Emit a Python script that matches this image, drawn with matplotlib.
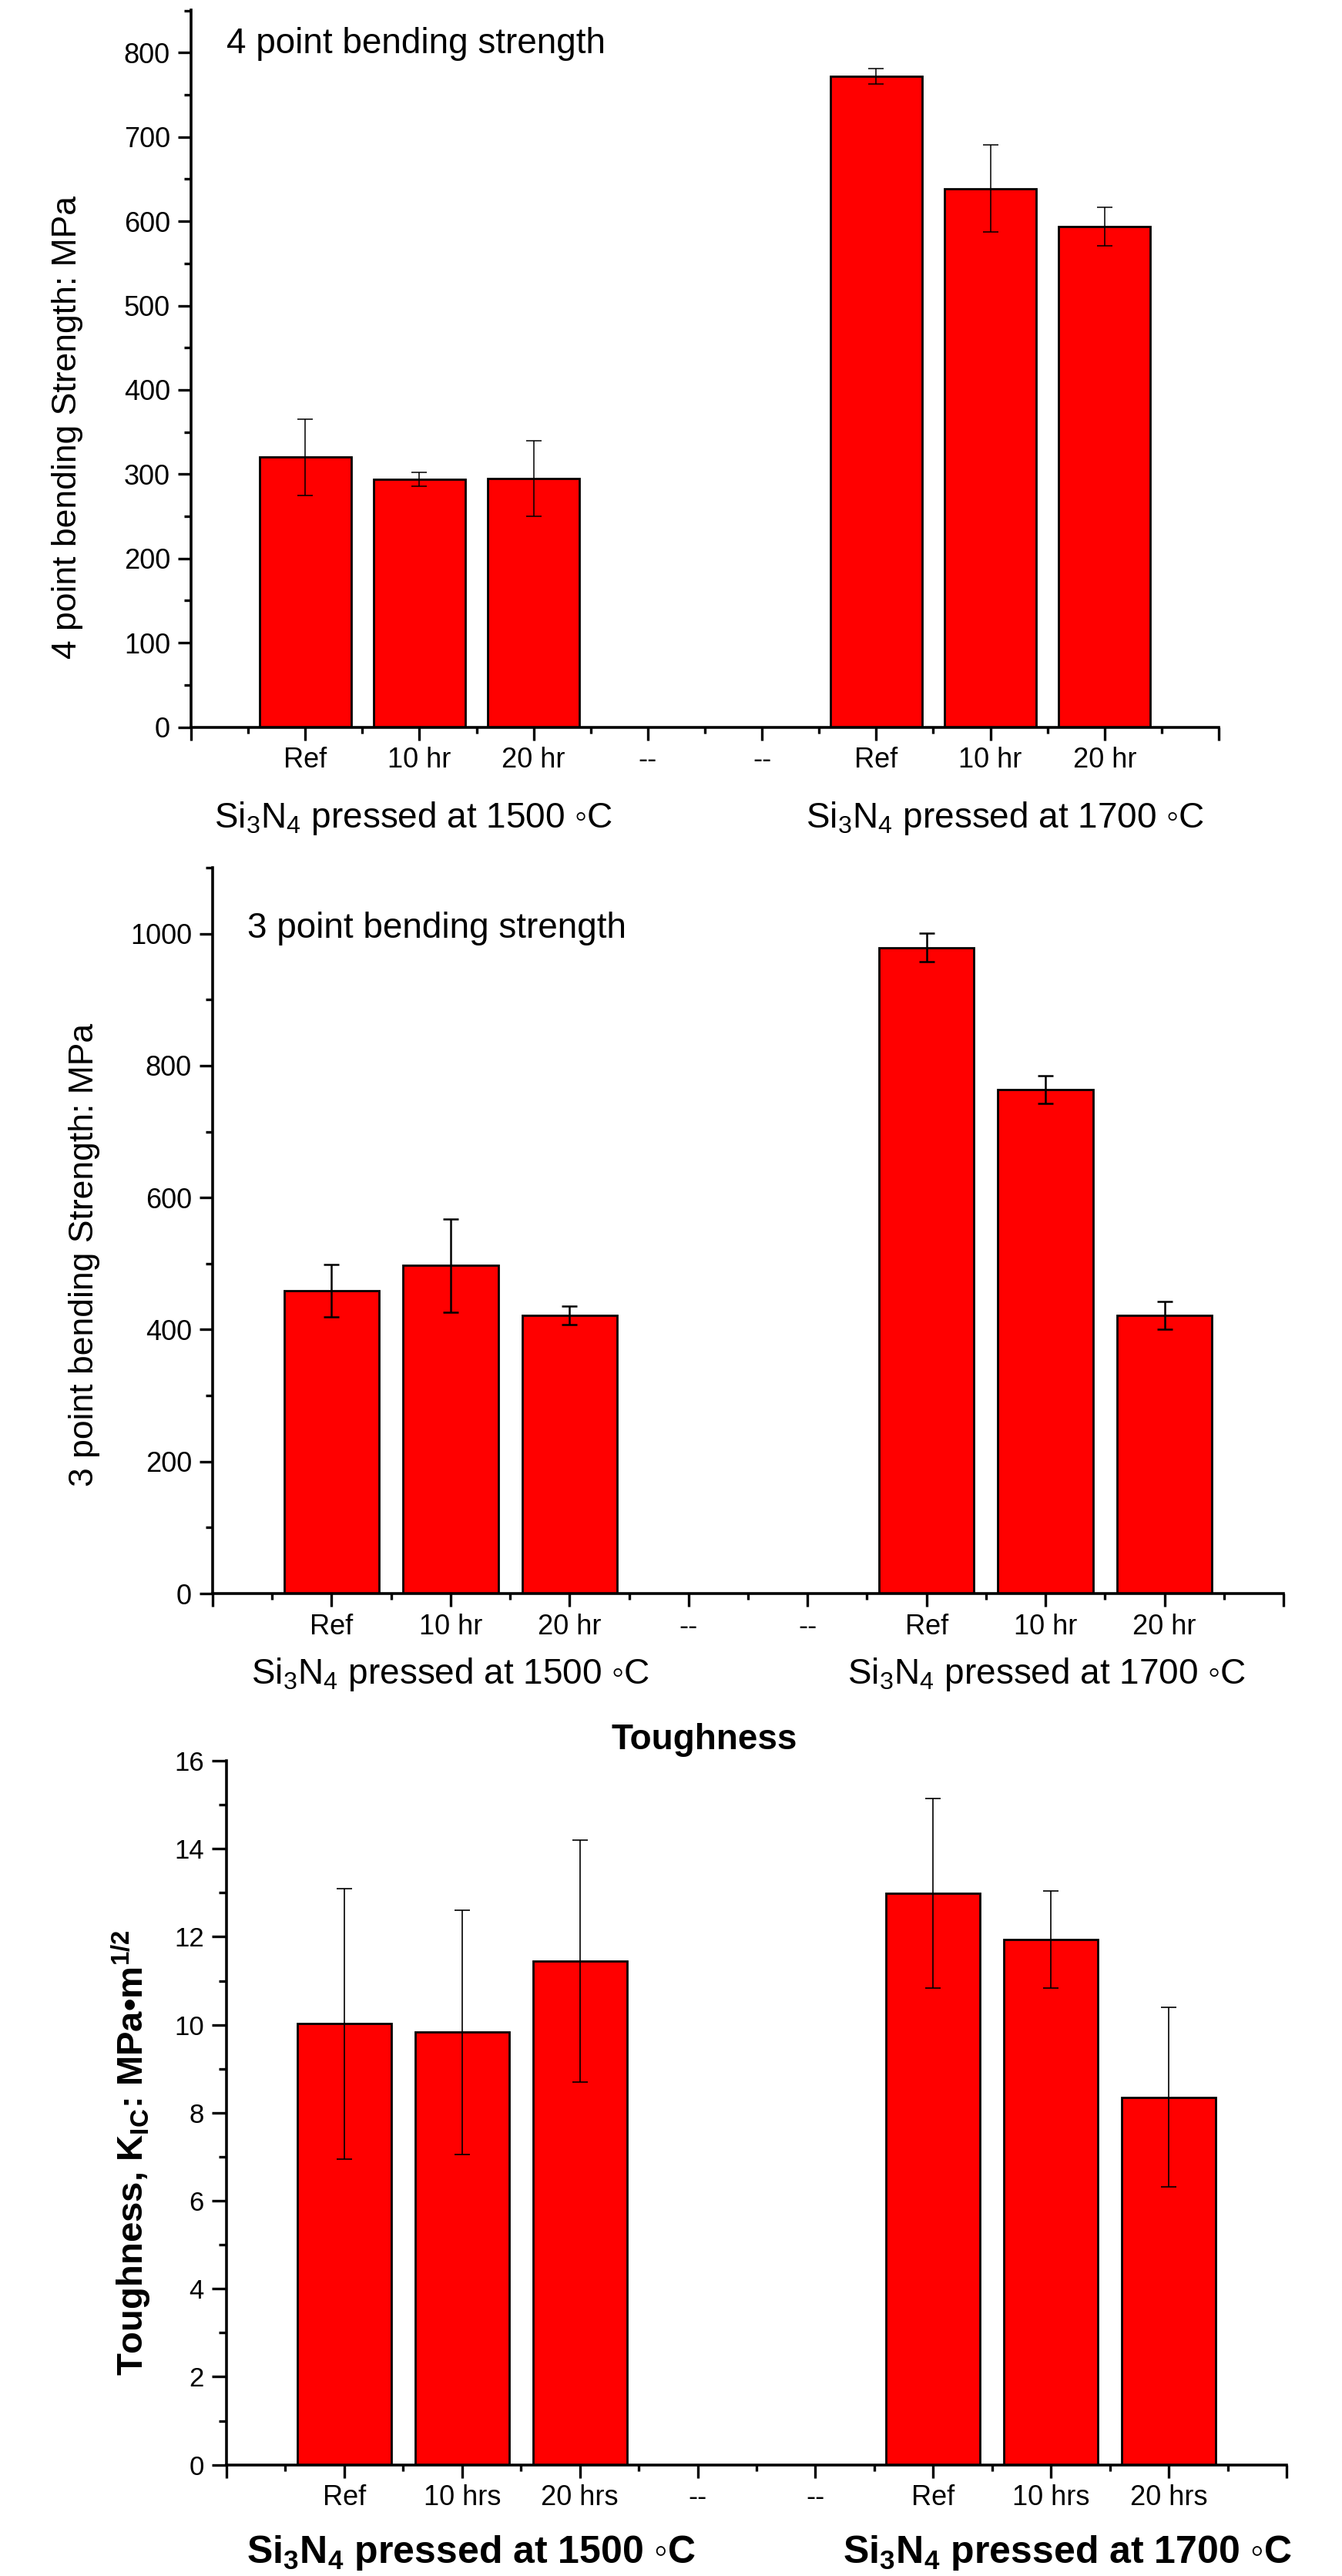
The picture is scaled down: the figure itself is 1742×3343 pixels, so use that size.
import numpy as np
import matplotlib
matplotlib.use("Agg")
import matplotlib.pyplot as plt
from matplotlib.ticker import MultipleLocator, FixedLocator

plt.rcParams['font.family'] = ['Liberation Sans', 'DejaVu Sans']
plt.rcParams['mathtext.fontset'] = 'custom'
plt.rcParams['mathtext.rm'] = 'Liberation Sans'
plt.rcParams['mathtext.it'] = 'Liberation Sans'
plt.rcParams['mathtext.bf'] = 'Liberation Sans:bold'

##  data (None = empty "--" slot)
cats_hr = ['Ref', '10 hr', '20 hr', '--', '--', 'Ref', '10 hr', '20 hr']
cats_hrs = ['Ref', '10 hrs', '20 hrs', '--', '--', 'Ref', '10 hrs', '20 hrs']

bend4 = [320, 294, 295, None, None, 772, 639, 594]
bend4_err = [45, 8, 45, None, None, 9, 52, 23]

bend3 = [459, 497, 421, None, None, 979, 764, 422]
bend3_err = [40, 71, 14, None, None, 22, 21, 21]

tough = [10.02, 9.83, 11.44, None, None, 12.99, 11.94, 8.35]
tough_err = [3.07, 2.77, 2.75, None, None, 2.15, 1.1, 2.04]

W, H = 1742, 3343
fig = plt.figure(figsize=(W / 100, H / 100), dpi=100)


def px_axes(l, r, t, b):
    # axes from pixel box (left, right, top, bottom)
    return fig.add_axes([l / W, (H - b) / H, (r - l) / W, (b - t) / H])


def panel(ax, vals, errs, labels, ylim, major, minor, elw, fs_tick, fs_cat, ytl=12.5):
    x = np.arange(1, len(vals) + 1)
    keep = np.array([v is not None for v in vals])
    v = np.array([vv for vv in vals if vv is not None], dtype=float)
    e = np.array([ee for ee in errs if ee is not None], dtype=float)
    ax.bar(x[keep], v, width=0.8, color='#ff0000', edgecolor='black',
           linewidth=2, zorder=2)
    ax.errorbar(x[keep], v, yerr=e, fmt='none', ecolor='black',
                elinewidth=elw, capsize=7, capthick=elw, zorder=3)

    ax.set_xlim(0, 9)
    ax.set_ylim(*ylim)
    for s in ['top', 'right']:
        ax.spines[s].set_visible(False)
    for s in ['left', 'bottom']:
        ax.spines[s].set_linewidth(2.6)

    ax.xaxis.set_major_locator(FixedLocator(range(0, 10)))
    ax.xaxis.set_minor_locator(FixedLocator(np.arange(0.5, 9, 1)))
    ax.set_xticklabels([''] + labels + [''])
    ax.yaxis.set_major_locator(MultipleLocator(major))
    ax.yaxis.set_minor_locator(MultipleLocator(minor))

    ax.tick_params(axis='x', which='major', direction='out', length=12.5, width=2.4,
                   labelsize=fs_cat, pad=6)
    ax.tick_params(axis='x', which='minor', direction='out', length=5.5, width=2.4)
    ax.tick_params(axis='y', which='major', direction='out', length=ytl, width=2.4,
                   labelsize=fs_tick, pad=7)
    ax.tick_params(axis='y', which='minor', direction='out', length=ytl / 2, width=2.4)


def group_labels(ax, xs, offset, fs, bold=False):
    if bold:
        txt = [r'Si$_\mathbf{3}$N$_\mathbf{4}$ pressed at 1500 ◦C',
               r'Si$_\mathbf{3}$N$_\mathbf{4}$ pressed at 1700 ◦C']
    else:
        txt = [r'Si$_3$N$_4$ pressed at 1500 ◦C',
               r'Si$_3$N$_4$ pressed at 1700 ◦C']
    for xx, t in zip(xs, txt):
        ax.annotate(t, xy=(xx, 0), xycoords=ax.get_xaxis_transform(),
                    xytext=(0, -offset), textcoords='offset pixels',
                    ha='center', va='baseline', fontsize=fs,
                    fontweight='bold' if bold else 'normal',
                    annotation_clip=False)


# 4 point bending
ax1 = px_axes(248, 1582, 12.6, 943.5)
panel(ax1, bend4, bend4_err, cats_hr, (0, 851), 100, 50, 1.1, 26, 26)
ax1.text(0.0345, 0.952, '4 point bending strength', transform=ax1.transAxes,
         ha='left', va='center', fontsize=33)
ax1.text(-0.1203, 0.418, '4 point bending Strength: MPa', transform=ax1.transAxes,
         rotation=90, ha='center', va='center', fontsize=32)
group_labels(ax1, [1.95, 7.13], 130, 33)

# 3 point bending
ax2 = px_axes(276, 1666, 1126, 2068)
panel(ax2, bend3, bend3_err, cats_hr, (0, 1100), 200, 100, 1.8, 26, 26)
ax2.text(0.0324, 0.9157, '3 point bending strength', transform=ax2.transAxes,
         ha='left', va='center', fontsize=33)
ax2.text(-0.120, 0.467, '3 point bending Strength: MPa', transform=ax2.transAxes,
         rotation=90, ha='center', va='center', fontsize=32)
group_labels(ax2, [2.0, 7.01], 117, 33)

# toughness
ax3 = px_axes(294, 1670, 2285, 3198.7)
panel(ax3, tough, tough_err, cats_hrs, (0, 16), 2, 1, 1.2, 25, 26, ytl=14)
ax3.text(0.451, 1.0296, 'Toughness', transform=ax3.transAxes,
         ha='center', va='center', fontsize=33, fontweight='bold')
ax3.text(-0.09, 0.443, r'Toughness, K$_\mathbf{IC}$: MPa•m$^\mathbf{1/2}$',
         transform=ax3.transAxes, rotation=90, ha='center', va='center',
         fontsize=34, fontweight='bold')
group_labels(ax3, [2.08, 7.14], 127, 36, bold=True)

plt.savefig('out.png', dpi=100)
